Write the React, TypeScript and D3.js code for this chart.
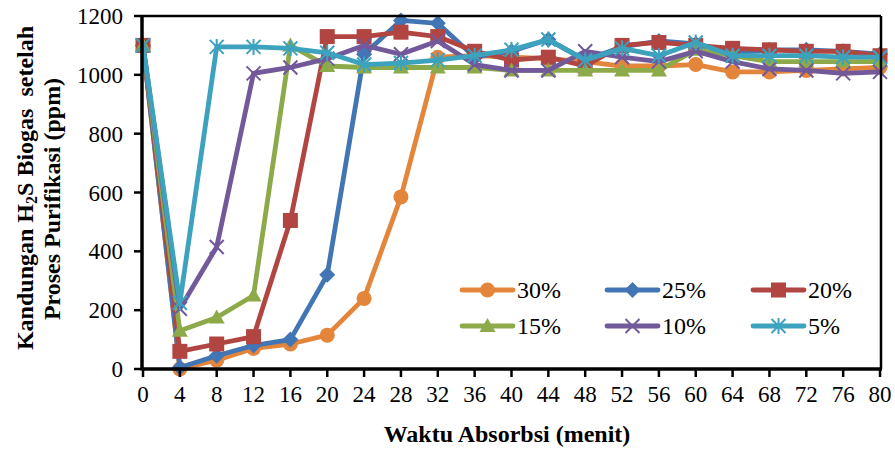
import * as d3 from 'd3';
import React from 'react';

const minutes = [0, 4, 8, 12, 16, 20, 24, 28, 32, 36, 40, 44, 48, 52, 56, 60, 64, 68, 72, 76, 80];
const s30 = [1100, 0, 30, 70, 85, 115, 240, 585, 1060, 1065, 1060, 1055, 1045, 1030, 1030, 1035, 1010, 1010, 1015, 1020, 1025];
const s25 = [1100, 5, 45, 80, 100, 320, 1070, 1185, 1175, 1060, 1080, 1120, 1050, 1095, 1115, 1105, 1075, 1085, 1085, 1080, 1070];
const s20 = [1100, 60, 85, 110, 505, 1130, 1130, 1145, 1130, 1080, 1050, 1060, 1030, 1100, 1110, 1100, 1090, 1085, 1080, 1080, 1065];
const s15 = [1100, 130, 175, 250, 1100, 1030, 1025, 1025, 1025, 1025, 1015, 1015, 1015, 1015, 1015, 1085, 1065, 1045, 1045, 1045, 1045];
const s10 = [1100, 205, 415, 1005, 1025, 1055, 1100, 1070, 1115, 1035, 1015, 1015, 1080, 1060, 1045, 1080, 1045, 1020, 1015, 1005, 1010];
const s5 = [1100, 225, 1095, 1095, 1090, 1075, 1035, 1040, 1050, 1065, 1085, 1120, 1050, 1090, 1065, 1110, 1065, 1065, 1065, 1060, 1060];

const seriesNames = ['30%', '25%', '20%', '15%', '10%', '5%'];
const seriesValues = [s30, s25, s20, s15, s10, s5];
const colors = ['#E3853A', '#4275B4', '#B14541', '#8DAA4A', '#72599A', '#3CA2BE'];
const markers = ['circle', 'diamond', 'square', 'triangle', 'x', 'star'];
const yTicks = [0, 200, 400, 600, 800, 1000, 1200];

const font = '"Liberation Serif", "Times New Roman", serif';

const margin = { top: 16, right: 15, bottom: 82, left: 143 };
const W = 895;
const H = 451;

const x = d3.scaleLinear().domain([0, 80]).range([margin.left, W - margin.right]);
const y = d3.scaleLinear().domain([0, 1200]).range([H - margin.bottom, margin.top]);

function Marker({ type, cx, cy, color }: { type: string; cx: number; cy: number; color: string }) {
    const t = `translate(${cx},${cy})`;
    if (type === 'circle') return <circle cx={cx} cy={cy} r={7.5} fill={color} />;
    if (type === 'square') return <rect x={cx - 7.5} y={cy - 7.5} width={15} height={15} fill={color} />;
    if (type === 'diamond') return <path transform={t} d="M0,-8L8,0L0,8L-8,0Z" fill={color} />;
    if (type === 'triangle') return <path transform={t} d="M0,-8L8,6L-8,6Z" fill={color} />;
    if (type === 'x') return <path transform={t} d="M-7,-7L7,7M-7,7L7,-7" stroke={color} strokeWidth={2} />;
    return <path transform={t} d="M-7,-7L7,7M-7,7L7,-7M0,-8L0,8" stroke={color} strokeWidth={2} />;
}

const App = () => {
    const line = d3.line<number>()
        .x((d, i) => x(minutes[i]))
        .y((d) => y(d));

    const legendCols = [462, 607, 753];
    const legendRows = [290, 326];

    return (
        <svg width={W} height={H} style={{ position: 'absolute', left: 0, top: 0, background: '#fff' }} fontFamily={font}>
            {/* series */}
            {seriesValues.map((vals, si) => (
                <g key={si}>
                    <path d={line(vals) || ''} fill="none" stroke={colors[si]} strokeWidth={4.8} strokeLinejoin="round" />
                    {vals.map((v, i) => (
                        <Marker key={i} type={markers[si]} cx={x(minutes[i])} cy={y(v)} color={colors[si]} />
                    ))}
                </g>
            ))}

            {/* frame */}
            <line x1={x(0)} x2={x(80) + 1} y1={y(1200)} y2={y(1200)} stroke="#000" strokeWidth={2.5} />
            <line x1={x(80) + 1} x2={x(80) + 1} y1={y(1200)} y2={y(0)} stroke="#000" strokeWidth={2.5} />
            <line x1={x(0) - 1} x2={x(0) - 1} y1={y(1200) - 1} y2={y(0) + 1.5} stroke="#000" strokeWidth={3.5} />
            <line x1={x(0) - 1} x2={x(80) + 2} y1={y(0)} y2={y(0)} stroke="#000" strokeWidth={3.5} />

            {/* y axis */}
            {yTicks.map((t) => (
                <g key={t}>
                    <line x1={x(0) - 9} x2={x(0)} y1={y(t)} y2={y(t)} stroke="#000" strokeWidth={2.5} />
                    <text x={x(0) - 20} y={y(t)} dy="0.35em" textAnchor="end" fontSize={23}>{t}</text>
                </g>
            ))}

            {/* x axis */}
            {minutes.map((m) => (
                <g key={m}>
                    <line x1={x(m)} x2={x(m)} y1={y(0)} y2={y(0) + 8} stroke="#000" strokeWidth={2.5} />
                    <text x={x(m)} y={402} textAnchor="middle" fontSize={23}>{m}</text>
                </g>
            ))}

            <text x={507} y={442} textAnchor="middle" fontSize={24} fontWeight="bold">Waktu Absorbsi (menit)</text>

            <text transform="translate(33,188) rotate(-90)" textAnchor="middle" fontSize={24} fontWeight="bold" style={{ whiteSpace: 'pre' }}>
                Kandungan H<tspan fontSize={16} dy={4}>2</tspan><tspan dy={-4}>{'S Biogas  setelah'}</tspan>
            </text>
            <text transform="translate(60,199) rotate(-90)" textAnchor="middle" fontSize={24} fontWeight="bold">
                Proses Purifikasi (ppm)
            </text>

            {/* legend */}
            {seriesNames.map((name, i) => {
                const lx = legendCols[i % 3];
                const ly = legendRows[Math.floor(i / 3)];
                return (
                    <g key={name}>
                        <line x1={lx} x2={lx + 51} y1={ly} y2={ly} stroke={colors[i]} strokeWidth={4.8} strokeLinecap="round" />
                        <Marker type={markers[i]} cx={lx + 25.5} cy={ly} color={colors[i]} />
                        <text x={lx + 55} y={ly} dy="0.35em" fontSize={24}>{name}</text>
                    </g>
                );
            })}
        </svg>
    );
};

export default App;
